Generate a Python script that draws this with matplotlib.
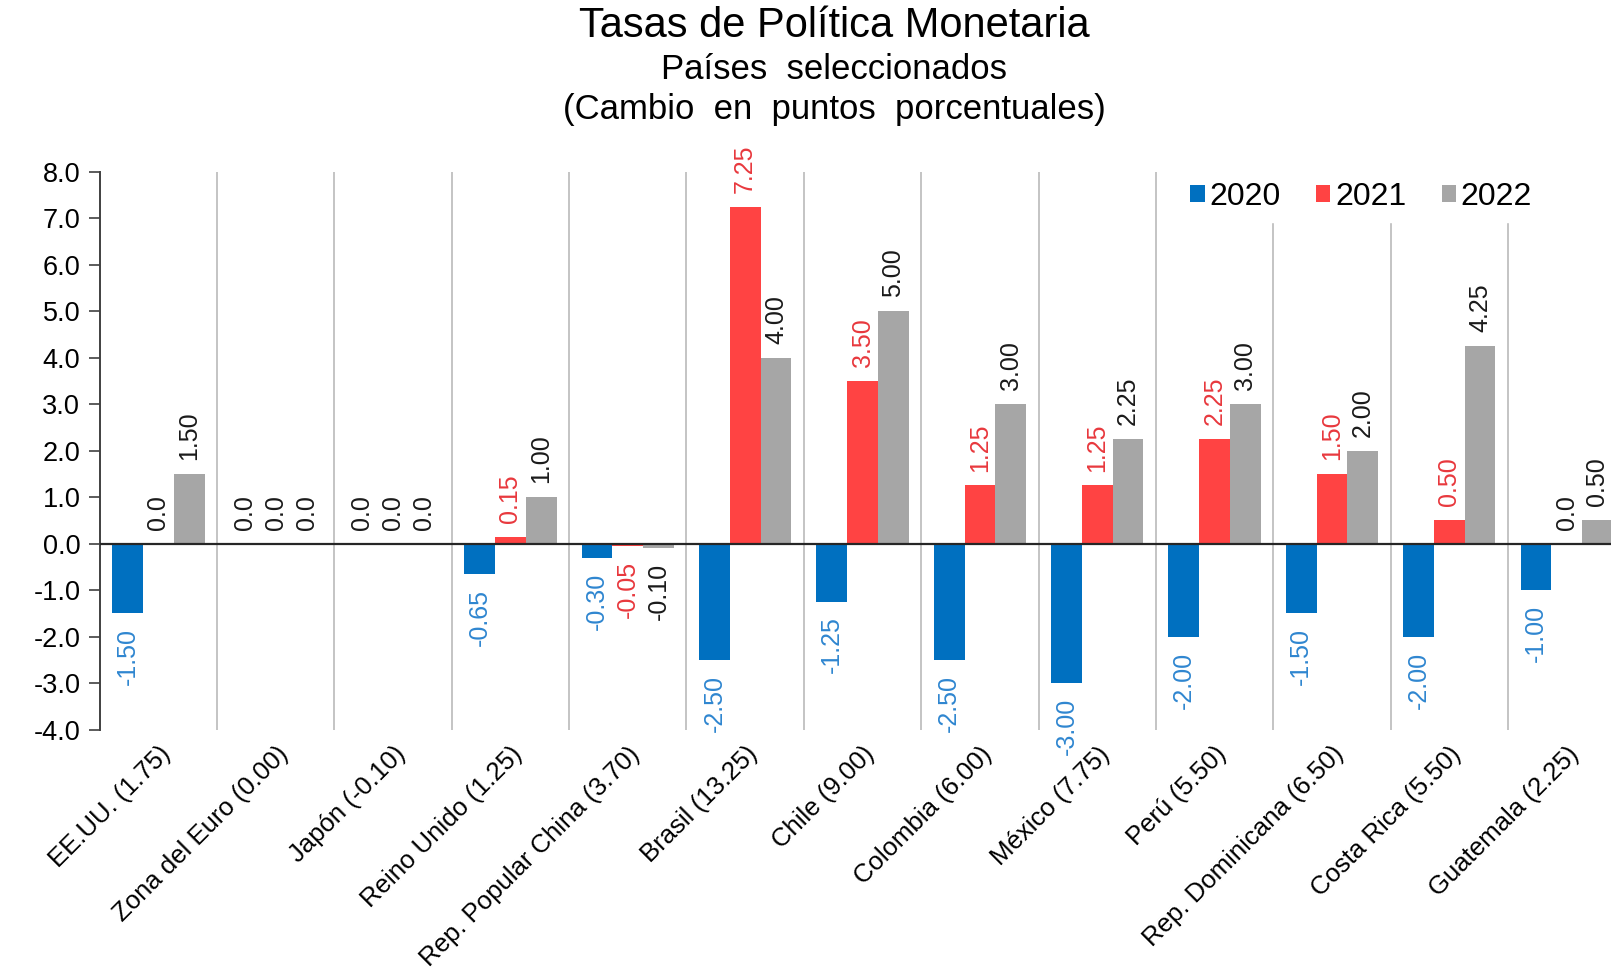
import numpy as np
import matplotlib.pyplot as plt

plt.rcParams['font.family'] = ['Liberation Sans', 'DejaVu Sans']

# ---- Data: change in policy rates (percentage points) ----
countries = [
    'EE.UU. (1.75)', 'Zona del Euro (0.00)', 'Japón (-0.10)', 'Reino Unido (1.25)',
    'Rep. Popular China (3.70)', 'Brasil (13.25)', 'Chile (9.00)', 'Colombia (6.00)',
    'México (7.75)', 'Perú (5.50)', 'Rep. Dominicana (6.50)', 'Costa Rica (5.50)',
    'Guatemala (2.25)',
]
chg_2020 = [-1.50, 0.0, 0.0, -0.65, -0.30, -2.50, -1.25, -2.50, -3.00, -2.00, -1.50, -2.00, -1.00]
chg_2021 = [0.0, 0.0, 0.0, 0.15, -0.05, 7.25, 3.50, 1.25, 1.25, 2.25, 1.50, 0.50, 0.0]
chg_2022 = [1.50, 0.0, 0.0, 1.00, -0.10, 4.00, 5.00, 3.00, 2.25, 3.00, 2.00, 4.25, 0.50]

years = ['2020', '2021', '2022']
bar_colors = ['#0070C0', '#FF4343', '#A6A6A6']
label_colors = ['#2F86D0', '#E8383D', '#1A1A1A']

# ---- Plot ----
fig = plt.figure(figsize=(16.11, 9.8), dpi=100)
ax = fig.add_axes([0.0619, 0.2556, 0.947, 0.5692])

x = np.arange(len(countries))
w = 0.262
series = [chg_2020, chg_2021, chg_2022]

for i, (vals, yr) in enumerate(zip(series, years)):
    pos = x + (i - 1) * w
    ax.bar(pos, vals, width=w, color=bar_colors[i], label=yr, zorder=3)
    for px, v in zip(pos, vals):
        if v == 0:
            txt, col = '0.0', '#1A1A1A'
        else:
            txt, col = f'{v:.2f}', label_colors[i]
        off = 0.3 if v >= 0 else -0.32
        ax.text(px, v + off, txt, rotation=90, ha='center',
                va='bottom' if v >= 0 else 'top', fontsize=18, color=col, zorder=4)

# group separators
for b in x[1:] - 0.5:
    ax.axvline(b, color='#BFBFBF', lw=1.3, zorder=1)

ax.axhline(0, color='#262626', lw=1.6, zorder=5)

ax.set_xlim(-0.5, len(countries) - 0.5)
ax.set_ylim(-4, 8)
ax.set_yticks(np.arange(-4, 9, 1))
ax.set_yticklabels([f'{t:.1f}' for t in np.arange(-4, 9, 1)], fontsize=19.5)
ax.set_xticks(x)
ax.set_xticklabels(countries, rotation=45, ha='right', rotation_mode='anchor', fontsize=18.5)
ax.tick_params(axis='x', length=0, pad=9)
ax.tick_params(axis='y', direction='out', length=8, width=1.2, color='#404040', pad=6)

for s in ['top', 'right', 'bottom']:
    ax.spines[s].set_visible(False)
ax.spines['left'].set_color('#404040')
ax.spines['left'].set_linewidth(1.4)

leg = fig.legend(loc='center', bbox_to_anchor=(0.845, 0.799), ncol=3, fontsize=23,
                 frameon=True, handlelength=0.45, handleheight=0.45, handletextpad=0.15,
                 columnspacing=1.1, borderpad=0.3)
leg.get_frame().set_facecolor('white')
leg.get_frame().set_edgecolor('white')
leg.get_frame().set_alpha(1)
leg.set_zorder(10)

fig.text(0.518, 0.973, 'Tasas de Política Monetaria', ha='center', va='center', fontsize=30)
fig.text(0.518, 0.929, 'Países  seleccionados', ha='center', va='center', fontsize=25)
fig.text(0.518, 0.888, '(Cambio  en  puntos  porcentuales)', ha='center', va='center', fontsize=25)

fig.savefig('out.png', dpi=100)
